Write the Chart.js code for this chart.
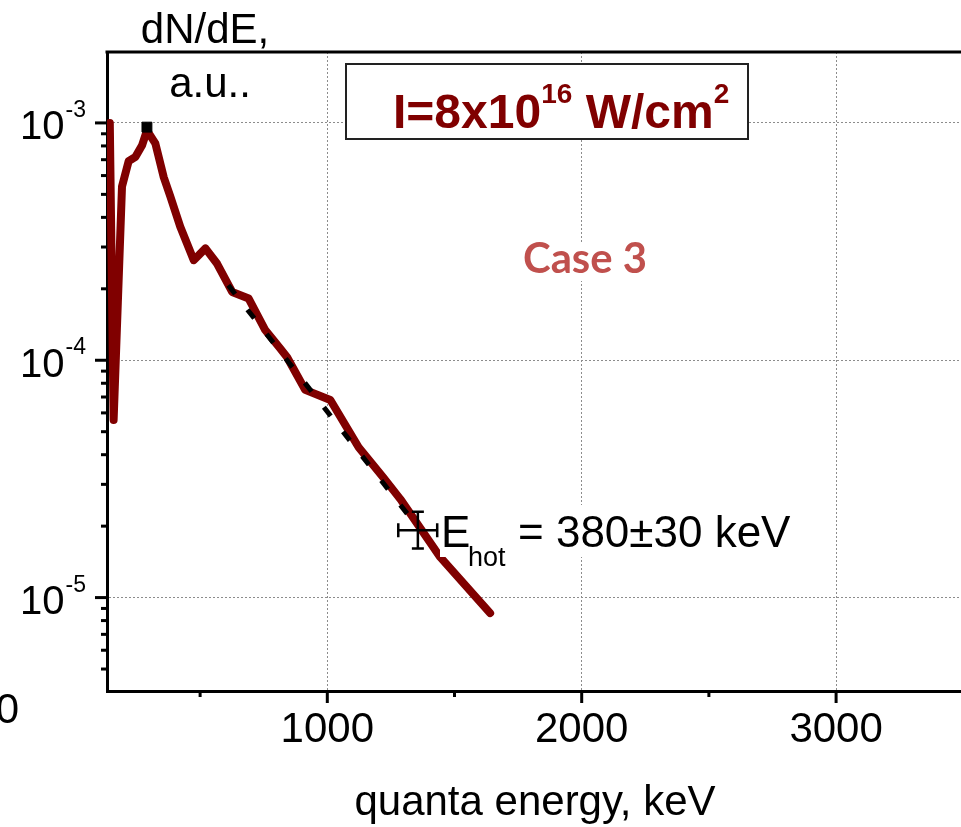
<!DOCTYPE html>
<html>
<head>
<meta charset="utf-8">
<script src="https://cdn.jsdelivr.net/npm/chart.js@4.4.0/dist/chart.umd.min.js"></script>
<style>
  html, body { margin: 0; background: #fff; }
  canvas { display: block; }
</style>
</head>
<body>
<canvas id="spectrumChart" width="961" height="827"></canvas>
<script>
// spectrum (keV, a.u.)
const energy = [145, 160, 193, 219, 246, 272, 291, 324, 357, 383, 422, 475, 521, 567, 626, 691,
                756, 815, 842, 913, 1012, 1123, 1221, 1287, 1444, 1640];
const dNdE = [1.0e-3, 5.6e-5, 5.4e-4, 6.9e-4, 7.2e-4, 8.05e-4, 9.3e-4, 8.2e-4, 5.9e-4, 4.9e-4,
              3.65e-4, 2.64e-4, 2.96e-4, 2.55e-4, 1.94e-4, 1.82e-4, 1.34e-4, 1.12e-4, 1.03e-4,
              7.5e-5, 6.8e-5, 4.3e-5, 3.2e-5, 2.6e-5, 1.48e-5, 8.6e-6];

// exponential fit (dashed)
const fitEnergy = [611, 1334];
const fitDNdE = [2.07e-4, 2.12e-5];

// marker at the peak
const peakEnergy = [291];
const peakDNdE = [9.6e-4];

// error bar symbol next to the E_hot label
const errEnergy = [1279, 1356, 1432];
const errDNdE = [1.61e-5, 1.92e-5, 2.30e-5];

const xTicks = [500, 1000, 1500, 2000, 2500, 3000];
const xLabelTicks = [1000, 2000, 3000];
const yTicks = [5e-6, 6e-6, 7e-6, 8e-6, 9e-6,
                1e-5, 2e-5, 3e-5, 4e-5, 5e-5, 6e-5, 7e-5, 8e-5, 9e-5,
                1e-4, 2e-4, 3e-4, 4e-4, 5e-4, 6e-4, 7e-4, 8e-4, 9e-4,
                1e-3];

const RED = '#800000';
const FONT = '"Liberation Sans", Arial, sans-serif';

function isDecade(v) {
    const l = Math.log10(v);
    return Math.abs(l - Math.round(l)) < 1e-6;
}

const overlayPlugin = {
    id: 'overlay',
    afterDraw(chart) {
        const ctx = chart.ctx;
        const xs = chart.scales.x, ys = chart.scales.y;
        const area = chart.chartArea;
        ctx.save();

        // frame top line
        ctx.strokeStyle = '#000';
        ctx.lineWidth = 3;
        ctx.beginPath();
        ctx.moveTo(area.left - 1.5, area.top);
        ctx.lineTo(area.right, area.top);
        ctx.stroke();

        // tick marks
        yTicks.forEach(v => {
            const py = ys.getPixelForValue(v);
            const len = isDecade(v) ? 12 : 6;
            ctx.beginPath();
            ctx.moveTo(area.left, py);
            ctx.lineTo(area.left - len, py);
            ctx.stroke();
        });
        xTicks.forEach(v => {
            const px = xs.getPixelForValue(v);
            const len = v % 1000 === 0 ? 12 : 6;
            ctx.beginPath();
            ctx.moveTo(px, area.bottom);
            ctx.lineTo(px, area.bottom + len);
            ctx.stroke();
        });

        // y labels 10^n
        ctx.fillStyle = '#000';
        ctx.textAlign = 'right';
        ctx.textBaseline = 'alphabetic';
        yTicks.filter(isDecade).forEach(v => {
            const py = ys.getPixelForValue(v);
            const sup = String(Math.round(Math.log10(v)));
            ctx.font = '23px ' + FONT;
            const supW = ctx.measureText(sup).width;
            ctx.fillText(sup, 86, py - 6);
            ctx.font = '40px ' + FONT;
            ctx.fillText('10', 86 - supW - 1, py + 16.5);
        });

        // cut-off label at bottom left
        ctx.font = '42px ' + FONT;
        ctx.fillText('0', 19, 723);

        // axis titles
        ctx.textAlign = 'center';
        ctx.font = '42px ' + FONT;
        ctx.fillText('dN/dE,', 205, 43);
        ctx.fillText('a.u..', 210, 97);
        ctx.fillText('quanta energy, keV', 535, 815);

        // intensity box
        ctx.fillStyle = '#fff';
        ctx.fillRect(346, 64, 402, 75);
        ctx.strokeStyle = '#222';
        ctx.lineWidth = 2;
        ctx.strokeRect(346, 64, 402, 75);
        ctx.fillStyle = RED;
        ctx.textAlign = 'left';
        let tx = 393;
        const parts = [['I=8x10', 'bold 48px', 128], ['16', 'bold 28px', 103],
                       [' W/cm', 'bold 48px', 128], ['2', 'bold 28px', 103]];
        parts.forEach(p => {
            ctx.font = p[1] + ' ' + FONT;
            ctx.fillText(p[0], tx, p[2]);
            tx += ctx.measureText(p[0]).width;
        });

        // Case 3
        ctx.fillStyle = '#fff';
        ctx.fillRect(519, 243, 132, 38);
        ctx.font = 'bold 40px Lato, sans-serif';
        const cw = ctx.measureText('Case 3').width;
        const cs = 40 * 124 / cw;
        ctx.font = 'bold ' + cs.toFixed(1) + 'px Lato, sans-serif';
        ctx.fillStyle = '#C0504D';
        ctx.fillText('Case 3', 523, 273);

        // E_hot label background and text
        ctx.fillStyle = '#fff';
        ctx.fillRect(440, 505, 355, 52);
        ctx.fillStyle = '#000';
        ctx.font = '44px ' + FONT;
        ctx.fillText('E', 441, 547);
        ctx.font = '27px ' + FONT;
        ctx.fillText('hot', 468, 566);
        ctx.font = '44px ' + FONT;
        ctx.fillText('= 380\u00B130 keV', 518, 547);

        // error bar symbol
        const ex0 = xs.getPixelForValue(errEnergy[0]);
        const ex1 = xs.getPixelForValue(errEnergy[1]);
        const ex2 = xs.getPixelForValue(errEnergy[2]);
        const ey0 = ys.getPixelForValue(errDNdE[0]);
        const ey1 = ys.getPixelForValue(errDNdE[1]);
        const ey2 = ys.getPixelForValue(errDNdE[2]);
        ctx.strokeStyle = '#000';
        ctx.lineWidth = 2.5;
        ctx.beginPath();
        ctx.moveTo(ex0, ey1); ctx.lineTo(ex2, ey1);
        ctx.moveTo(ex0, ey1 - 7); ctx.lineTo(ex0, ey1 + 7);
        ctx.moveTo(ex2, ey1 - 7); ctx.lineTo(ex2, ey1 + 7);
        ctx.moveTo(ex1, ey0); ctx.lineTo(ex1, ey2);
        ctx.moveTo(ex1 - 6, ey0); ctx.lineTo(ex1 + 6, ey0);
        ctx.moveTo(ex1 - 6, ey2); ctx.lineTo(ex1 + 6, ey2);
        ctx.stroke();

        ctx.restore();
    }
};

const ctx = document.getElementById('spectrumChart').getContext('2d');
new Chart(ctx, {
    type: 'line',
    data: {
        datasets: [
            {
                label: 'fit',
                data: fitEnergy.map((e, i) => ({ x: e, y: fitDNdE[i] })),
                borderColor: '#000',
                borderWidth: 5,
                borderDash: [11, 20],
                pointRadius: 0,
                order: 0
            },
            {
                label: 'peak',
                data: peakEnergy.map((e, i) => ({ x: e, y: peakDNdE[i] })),
                showLine: false,
                pointStyle: 'rect',
                pointRadius: 7,
                backgroundColor: '#000',
                borderColor: '#000',
                order: 0
            },
            {
                label: 'spectrum',
                data: energy.map((e, i) => ({ x: e, y: dNdE[i] })),
                borderColor: RED,
                borderWidth: 8,
                borderJoinStyle: 'round',
                borderCapStyle: 'round',
                pointRadius: 0,
                tension: 0,
                order: 1
            }
        ]
    },
    options: {
        responsive: false,
        animation: false,
        layout: { autoPadding: false, padding: { top: 52, right: 0, left: 0, bottom: 0 } },
        plugins: { legend: { display: false }, tooltip: { enabled: false } },
        scales: {
            x: {
                type: 'linear',
                min: 134,
                max: 3491,
                afterBuildTicks: s => { s.ticks = xTicks.map(v => ({ value: v })); },
                afterFit: s => { s.height = 136; },
                ticks: {
                    color: '#000',
                    padding: 14,
                    maxRotation: 0,
                    autoSkip: false,
                    font: { family: FONT, size: 42 },
                    callback: v => xLabelTicks.includes(v) ? String(v) : ''
                },
                grid: {
                    drawTicks: false,
                    lineWidth: 1,
                    color: c => (c.tick && c.tick.value % 1000 === 0) ? '#8c8c8c' : 'rgba(0,0,0,0)'
                },
                border: { color: '#000', width: 3, dash: [2, 2] }
            },
            y: {
                type: 'logarithmic',
                min: 4.04e-6,
                max: 1.99e-3,
                afterBuildTicks: s => { s.ticks = yTicks.map(v => ({ value: v })); },
                afterFit: s => { s.width = 107; },
                ticks: { display: false },
                grid: {
                    drawTicks: false,
                    lineWidth: 1,
                    color: c => (c.tick && isDecade(c.tick.value)) ? '#8c8c8c' : 'rgba(0,0,0,0)'
                },
                border: { color: '#000', width: 3, dash: [2, 2] }
            }
        }
    },
    plugins: [overlayPlugin]
});
</script>
</body>
</html>
